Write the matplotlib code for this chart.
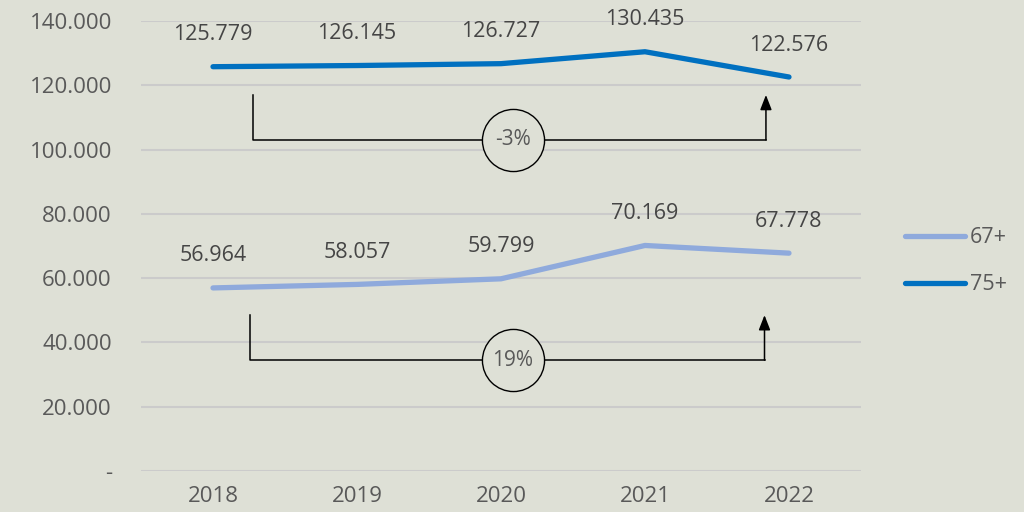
import matplotlib.pyplot as plt
from matplotlib.ticker import FuncFormatter

years = ['2018', '2019', '2020', '2021', '2022']
age_67 = [56964, 58057, 59799, 70169, 67778]
age_75 = [125779, 126145, 126727, 130435, 122576]
change_labels = ['19%', '-3%']

BG = '#dee0d6'
TXT = '#595959'
plt.rcParams['font.family'] = ['Open Sans', 'DejaVu Sans']


def dotted(v):
    return '{:,}'.format(int(v)).replace(',', '.')


fig = plt.figure(figsize=(10.24, 5.12), dpi=100, facecolor=BG)
ax = fig.add_axes([0.1377, 0.080, 0.7031, 0.879], facecolor=BG)

xs = list(range(len(years)))
l67, = ax.plot(xs, age_67, color='#8faadc', lw=3.8, solid_capstyle='round', label='67+')
l75, = ax.plot(xs, age_75, color='#0070c0', lw=3.8, solid_capstyle='round', label='75+')

for series in (age_67, age_75):
    for x, v in zip(xs, series):
        ax.annotate(dotted(v), (x, v), xytext=(0, 23), textcoords='offset points',
                    ha='center', va='center', fontsize=15.5, color='#454545')

# brackets with change circles
for (y_top, y_bot, x0, x1), lab in zip([(48500, 34500, 0.26, 3.83), (117000, 103000, 0.28, 3.84)],
                                       change_labels):
    ax.plot([x0, x0, x1], [y_top, y_bot, y_bot], color='black', lw=1.1)
    ax.annotate('', xy=(x1, y_top), xytext=(x1, y_bot),
                arrowprops=dict(arrowstyle='-|>,head_length=0.9,head_width=0.35',
                                color='black', lw=1.1, shrinkA=0, shrinkB=0))
    cx = 2.08
    cy = y_bot
    ax.scatter([cx], [cy], s=2000, facecolor=BG, edgecolor='black', linewidth=1.0, zorder=5)
    ax.text(cx, cy, lab, ha='center', va='center', fontsize=15, color=TXT, zorder=6)

ax.set_xlim(-0.5, 4.5)
ax.set_ylim(0, 140000)
ax.set_yticks(range(0, 140001, 20000))
ax.yaxis.set_major_formatter(FuncFormatter(lambda v, p: '-' if v == 0 else dotted(v)))
ax.set_xticks(xs)
ax.set_xticklabels(years)
ax.grid(axis='y', color='#cbcbcb', lw=1.5)
ax.set_axisbelow(True)
for s in ax.spines.values():
    s.set_visible(False)
ax.tick_params(axis='both', length=0, labelsize=16, colors=TXT)
ax.tick_params(axis='y', pad=21)
ax.tick_params(axis='x', pad=11)

fig.legend(handles=[l67, l75], loc='center left', bbox_to_anchor=(0.865, 0.49), frameon=False,
           fontsize=15.5, labelcolor=TXT, handlelength=2.8, handletextpad=0.2, labelspacing=1.2)

fig.savefig('out.png', dpi=100, facecolor=BG)
